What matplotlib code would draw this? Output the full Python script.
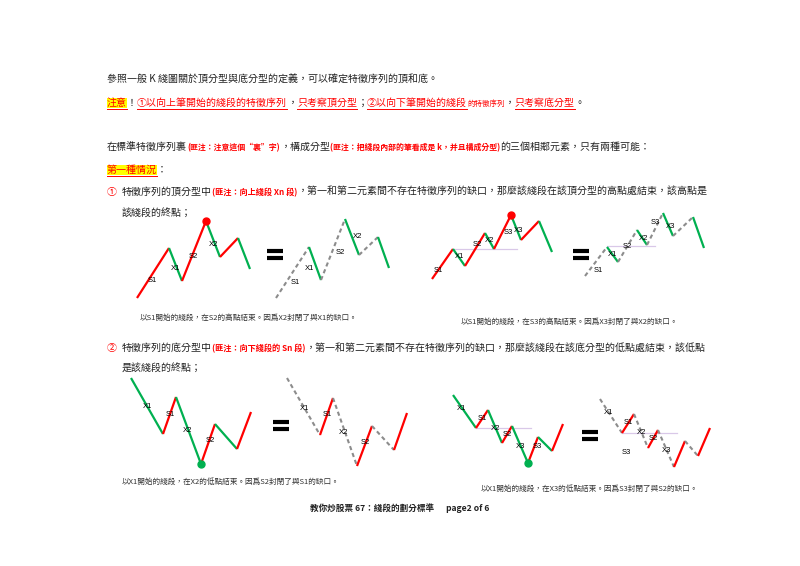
import matplotlib
matplotlib.use("Agg")
import matplotlib.pyplot as plt

plt.rcParams['font.family'] = ['Noto Sans CJK TC', 'DejaVu Sans']

# ---- diagram data (zigzag vertices, segment styles r=red, g=green, d=dashed grey) ----
d1_x = [137, 169, 182, 206, 220, 238, 250]
d1_y = [298, 248, 281, 221, 257, 238, 269]
d1_s = "rgrgrg"
d2_x = [276, 309, 321, 345, 359, 378, 389]
d2_y = [298, 247, 280, 219, 255, 237, 268]
d2_s = "dgdgdg"
d3_x = [432, 453, 465, 485, 494, 511, 521, 539, 552]
d3_y = [279, 249, 266, 233, 249, 215, 240, 221, 252]
d3_s = "rgrgrgrg"
d4_x = [585, 607, 618, 637, 647, 663, 673, 693, 704]
d4_y = [276, 247, 262, 230, 245, 213, 236, 217, 248]
d4_s = "dgdgdgdg"
d5_x = [131, 163, 176, 201, 215, 237, 251]
d5_y = [378, 434, 397, 464, 424, 449, 412]
d5_s = "grgrgr"
d6_x = [287, 320, 333, 357, 372, 394, 407]
d6_y = [378, 435, 398, 466, 426, 450, 413]
d6_s = "drdrdr"
d7_x = [453, 476, 488, 502, 512, 528, 538, 552, 563]
d7_y = [395, 428, 410, 443, 426, 463, 437, 451, 424]
d7_s = "grgrgrgr"
d8_x = [600, 622, 634, 648, 658, 674, 685, 698, 710]
d8_y = [399, 433, 414, 448, 430, 467, 441, 456, 428]
d8_s = "drdrdrdr"

labels1 = [("S1", 152, 280), ("X1", 176, 269), ("S2", 193, 256), ("X2", 214, 244)]
labels2 = [("S1", 295, 283), ("X1", 310, 269), ("S2", 340, 253), ("X2", 358, 237)]
labels3 = [("S1", 438, 270), ("X1", 460, 257), ("S2", 477, 245), ("X2", 490, 241), ("S3", 508, 233), ("X3", 519, 230)]
labels4 = [("S1", 598, 270), ("X1", 613, 255), ("S2", 627, 246), ("X2", 644, 239), ("S3", 655, 223), ("X3", 671, 227)]
labels5 = [("X1", 148, 406), ("S1", 170, 414), ("X2", 188, 431), ("S2", 210, 441)]
labels6 = [("X1", 305, 408), ("S1", 327, 415), ("X2", 344, 432), ("S2", 365, 442)]
labels7 = [("X1", 462, 409), ("S1", 482, 419), ("X2", 496, 429), ("S2", 507, 434), ("X3", 521, 447), ("S3", 537, 447)]
labels8 = [("X1", 609, 413), ("S1", 628, 423), ("X2", 642, 433), ("S2", 653, 439), ("S3", 626, 453), ("X3", 667, 451)]

purple_lines = [(453, 517, 249), (607, 655, 246), (476, 531, 428), (622, 677, 433)]
dots = [(206, 221, '#ff0000'), (511, 215, '#ff0000'), (201, 464, '#00b050'), (528, 463, '#00b050')]
equals = [(275, 254), (581, 254), (281, 425), (590, 435)]

captions = [
    (140, 318, "以S1開始的綫段，在S2的高點結束。因爲X2封閉了與X1的缺口。"),
    (461, 322, "以S1開始的綫段，在S3的高點結束。因爲X3封閉了與X2的缺口。"),
    (122, 482, "以X1開始的綫段，在X2的低點結束。因爲S2封閉了與S1的缺口。"),
    (481, 489, "以X1開始的綫段，在X3的低點結束。因爲S3封閉了與S2的缺口。"),
]

RED = '#ff0000'
GREEN = '#00b050'
GREY = '#8c8c8c'

fig = plt.figure(figsize=(8, 5.66), dpi=100)
ax = fig.add_axes([0, 0, 1, 1])
ax.set_xlim(0, 800)
ax.set_ylim(566, 0)
ax.axis('off')
renderer = fig.canvas.get_renderer()


def draw_zig(xs, ys, styles):
    for i, s in enumerate(styles):
        seg_x = xs[i:i + 2]
        seg_y = ys[i:i + 2]
        if s == 'r':
            ax.plot(seg_x, seg_y, color=RED, lw=1.6, solid_capstyle='butt')
        elif s == 'g':
            ax.plot(seg_x, seg_y, color=GREEN, lw=1.6, solid_capstyle='butt')
        else:
            ax.plot(seg_x, seg_y, color=GREY, lw=1.5, linestyle=(0, (2, 1.5)))


for xs, ys, st in [(d1_x, d1_y, d1_s), (d2_x, d2_y, d2_s), (d3_x, d3_y, d3_s), (d4_x, d4_y, d4_s),
                   (d5_x, d5_y, d5_s), (d6_x, d6_y, d6_s), (d7_x, d7_y, d7_s), (d8_x, d8_y, d8_s)]:
    draw_zig(xs, ys, st)

for x0, x1, y in purple_lines:
    ax.plot([x0, x1], [y, y], color='#d9c8e8', lw=0.9, zorder=1)
for x, y, c in dots:
    ax.plot(x, y, 'o', color=c, ms=5, zorder=5)
for x, y in equals:
    for dy in (-3.5, 3.5):
        ax.plot([x - 8, x + 8], [y + dy, y + dy], color='black', lw=3, solid_capstyle='butt')
for lab in [labels1, labels2, labels3, labels4, labels5, labels6, labels7, labels8]:
    for t, x, y in lab:
        ax.text(x, y, t, fontsize=5.5, ha='center', va='center', family='Liberation Sans', zorder=6)
for x, y, t in captions:
    ax.text(x, y, t, fontsize=5.5, ha='left', va='center', color='#333333')


def run(x, y, pieces):
    for p in pieces:
        txt, size, color = p[0], p[1], p[2]
        opts = p[3] if len(p) > 3 else {}
        kw = dict(fontsize=size, color=color, ha='left', va='baseline')
        if opts.get('bold'):
            kw['fontweight'] = 'bold'
        if opts.get('bg'):
            kw['bbox'] = dict(facecolor='#ffff00', edgecolor='none', pad=0.3)
        t = ax.text(x, y, txt, **kw)
        bb = t.get_window_extent(renderer)
        w = bb.width
        if opts.get('ul'):
            ax.plot([x, x + w], [y + 2.5, y + 2.5], color=color, lw=0.7)
        x += w
    return x


K = '#222222'
F = 7.2
run(107, 83, [("參照一般 K 綫圖關於頂分型與底分型的定義，可以確定特徵序列的頂和底。", F, K)])
run(107, 106, [("注意", F, RED, {'bg': 1, 'ul': 1}), ("！", F, K),
               ("①以向上筆開始的綫段的特徵序列", F, RED, {'ul': 1}), ("，", F, K),
               ("只考察頂分型", F, RED, {'ul': 1}), ("；", F, K),
               ("②以向下筆開始的綫段", F, RED, {'ul': 1}), ("的特徵序列", 5.4, RED),
               ("，", F, K), ("只考察底分型", F, RED, {'ul': 1}), ("。", F, K)])
run(107, 150, [("在標準特徵序列裏", F, K), ("(匪注：注意這個“裏”字)", 5.7, RED, {'bold': 1}),
               ("，構成分型", F, K), ("(匪注：把綫段內部的筆看成是 k，并且構成分型)", 5.7, RED, {'bold': 1}),
               ("的三個相鄰元素，只有兩種可能：", F, K)])
run(107, 173, [("第一種情況", F, RED, {'bg': 1, 'ul': 1}), ("：", F, K)])
ax.text(107, 195, "①", fontsize=F, color=RED, va='baseline')
run(122, 195, [("特徵序列的頂分型中", F, K), ("(匪注：向上綫段 Xn 段)", 5.9, RED, {'bold': 1}),
               ("，第一和第二元素間不存在特徵序列的缺口，那麼該綫段在該頂分型的高點處結束，該高點是", F, K)])
run(122, 217, [("該綫段的終點；", F, K)])
ax.text(107, 351, "②", fontsize=F, color=RED, va='baseline')
run(122, 351, [("特徵序列的底分型中", F, K), ("(匪注：向下綫段的 Sn 段)", 5.9, RED, {'bold': 1}),
               ("，第一和第二元素間不存在特徵序列的缺口，那麼該綫段在該底分型的低點處結束，該低點", F, K)])
run(122, 372, [("是該綫段的終點；", F, K)])
ax.text(400, 508, "教你炒股票 67：綫段的劃分標準      page2 of 6", fontsize=6.2, fontweight='bold',
        ha='center', va='center', color=K)

fig.savefig("out.png", dpi=100)
